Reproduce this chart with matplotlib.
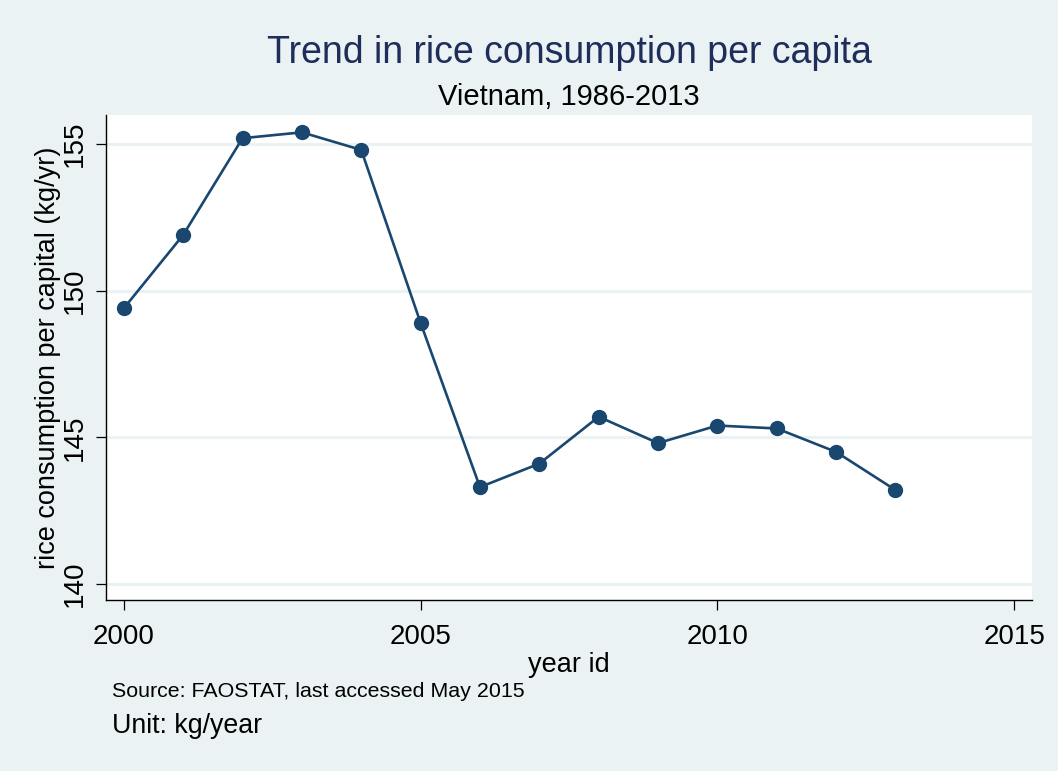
import matplotlib
matplotlib.use("Agg")
import matplotlib.pyplot as plt

# data
years = [2000, 2001, 2002, 2003, 2004, 2005, 2006, 2007, 2008, 2009, 2010, 2011, 2012, 2013]
consumption = [149.4, 151.9, 155.2, 155.4, 154.8, 148.9, 143.3, 144.1, 145.7, 144.8, 145.4, 145.3, 144.5, 143.2]
x_ticks = [2000, 2005, 2010, 2015]
y_ticks = [140, 145, 150, 155]

bg = "#EAF2F3"
navy = "#1A476F"

plt.rcParams["font.family"] = ["Liberation Sans", "DejaVu Sans"]

fig = plt.figure(figsize=(10.58, 7.71), dpi=100, facecolor=bg)
ax = fig.add_axes([0.1002, 0.2218, 0.8752, 0.629])
ax.set_facecolor("white")

# light horizontal grid
for yv in y_ticks:
    ax.axhline(yv, color=bg, linewidth=2.2, zorder=1)

ax.plot(years, consumption, color=navy, linewidth=1.9, marker="o",
        markersize=10, markerfacecolor=navy, markeredgecolor=navy, zorder=3)

ax.set_xlim(1999.70, 2015.30)
ax.set_ylim(139.45, 155.99)
ax.set_xticks(x_ticks)
ax.set_yticks(y_ticks)

for side in ("top", "right"):
    ax.spines[side].set_visible(False)
for side in ("left", "bottom"):
    ax.spines[side].set_color("black")
    ax.spines[side].set_linewidth(1.0)

ax.tick_params(axis="both", direction="out", length=7, width=0.9, colors="black", labelsize=20)
ax.tick_params(axis="x", pad=10)
ax.tick_params(axis="y", pad=6)
for lbl in ax.get_yticklabels():
    lbl.set_rotation(90)
    lbl.set_va("center")

ax.set_xlabel("year id", fontsize=19.5, labelpad=2)
ax.set_ylabel("rice consumption per capital (kg/yr)", fontsize=19.5, labelpad=1)

fig.text(0.5378, 0.931, "Trend in rice consumption per capita", ha="center", va="center",
         fontsize=27, color="#1E2D5A")
fig.text(0.5378, 0.874, "Vietnam, 1986-2013", ha="center", va="center",
         fontsize=21, color="black")
fig.text(0.106, 0.103, "Source: FAOSTAT, last accessed May 2015", ha="left", va="center",
         fontsize=15.4, color="black")
fig.text(0.106, 0.058, "Unit: kg/year", ha="left", va="center",
         fontsize=19.3, color="black")

fig.savefig("out.png", dpi=100, facecolor=bg)
